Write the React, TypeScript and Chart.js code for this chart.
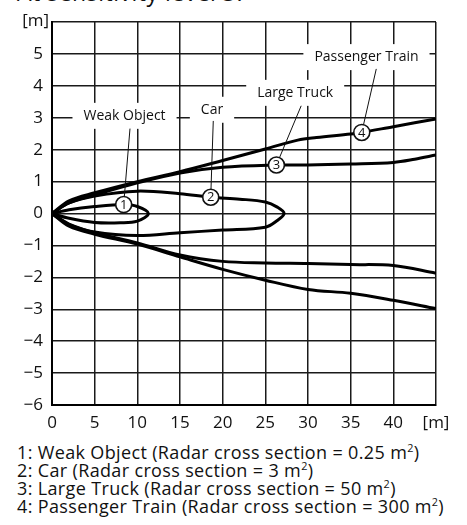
import React, { useEffect, useRef } from "react";
import { Chart, registerables } from "chart.js";
Chart.register(...registerables);

// ---- data ----
const xTickValues = [0, 5, 10, 15, 20, 25, 30, 35, 40, 45];
const xTickLabels = ["0", "5", "10", "15", "20", "25", "30", "35", "40", "[m]"];
const yTickValues = [-6, -5, -4, -3, -2, -1, 0, 1, 2, 3, 4, 5, 6];
const yTickLabels = ["−6", "−5", "−4", "−3", "−2", "−1", "0", "1", "2", "3", "4", "5", ""];

const weakObjectX = [0, 2, 5, 8.4, 10, 11.3, 10, 8, 5, 2, 0];
const weakObjectY = [0, 0.12, 0.22, 0.28, 0.22, 0, -0.24, -0.29, -0.28, -0.15, 0];

const carX = [0, 2, 5, 10, 15, 18.6, 22, 25, 26.4, 27.2, 26.4, 25, 20, 15, 10, 5, 2, 0];
const carY = [0, 0.33, 0.55, 0.7, 0.62, 0.51, 0.45, 0.36, 0.2, 0, -0.22, -0.43, -0.52, -0.6, -0.69, -0.58, -0.33, 0];

const truckUpperX = [0, 2, 5, 10, 15, 20, 26.3, 30, 35, 40, 42.5, 45];
const truckUpperY = [0, 0.33, 0.58, 0.96, 1.27, 1.45, 1.52, 1.52, 1.55, 1.6, 1.7, 1.83];
const truckLowerX = [0, 2, 5, 10, 15, 20, 25, 30, 35, 40, 45];
const truckLowerY = [0, -0.35, -0.6, -0.92, -1.3, -1.5, -1.55, -1.57, -1.6, -1.63, -1.87];

const trainUpperX = [0, 2, 5, 10, 15, 20, 25, 28.8, 31, 35, 36.3, 40, 45];
const trainUpperY = [0, 0.4, 0.65, 1.0, 1.31, 1.66, 2.02, 2.3, 2.38, 2.49, 2.54, 2.72, 2.96];
const trainLowerX = [0, 2, 5, 10, 15, 20, 25, 30, 35, 40, 45];
const trainLowerY = [0, -0.4, -0.65, -0.96, -1.36, -1.75, -2.09, -2.38, -2.5, -2.72, -2.98];

// annotations
const labelTexts = ["Weak Object", "Car", "Large Truck", "Passenger Train"];
const labelX = [8.5, 18.75, 28.5, 36.85];
const labelY = [3.06, 3.25, 3.78, 4.9];
const leaderStartX = [9.14, 18.9, 29.2, 38.0];
const leaderStartY = [2.66, 2.9, 3.375, 4.53];
const markerNumbers = ["1", "2", "3", "4"];
const markerX = [8.4, 18.6, 26.3, 36.3];
const markerY = [0.28, 0.51, 1.52, 2.54];

const footnotes = [
  ["1: Weak Object (Radar cross section = 0.25 m", ")"],
  ["2: Car (Radar cross section = 3 m", ")"],
  ["3: Large Truck (Radar cross section = 50 m", ")"],
  ["4: Passenger Train (Radar cross section = 300 m", ")"],
];

const FONT = '"Open Sans", "Noto Sans", sans-serif';

function pts(xs: number[], ys: number[]) {
  return xs.map((x, i) => ({ x, y: ys[i] }));
}

const annotationPlugin = {
  id: "annot",
  beforeDatasetsDraw(chart: any) {
    const { ctx, scales } = chart;
    const xs = scales.x, ys = scales.y;
    ctx.save();
    ctx.font = `14px ${FONT}`;
    ctx.textAlign = "center";
    ctx.textBaseline = "middle";
    labelTexts.forEach((t, i) => {
      const cx = xs.getPixelForValue(labelX[i]);
      const cy = ys.getPixelForValue(labelY[i]);
      const w = ctx.measureText(t).width + 22;
      const h = 26;
      ctx.fillStyle = "#fff";
      ctx.fillRect(cx - w / 2, cy - h / 2, w, h);
      ctx.fillStyle = "#111";
      ctx.fillText(t, cx, cy);
    });
    ctx.restore();
  },
  afterDatasetsDraw(chart: any) {
    const { ctx, scales } = chart;
    const xs = scales.x, ys = scales.y;
    ctx.save();
    ctx.strokeStyle = "#111";
    ctx.lineWidth = 1;
    markerNumbers.forEach((_, i) => {
      ctx.beginPath();
      ctx.moveTo(xs.getPixelForValue(leaderStartX[i]), ys.getPixelForValue(leaderStartY[i]));
      ctx.lineTo(xs.getPixelForValue(markerX[i]), ys.getPixelForValue(markerY[i]));
      ctx.stroke();
    });
    ctx.font = `13px ${FONT}`;
    ctx.textAlign = "center";
    ctx.textBaseline = "middle";
    markerNumbers.forEach((n, i) => {
      const cx = xs.getPixelForValue(markerX[i]);
      const cy = ys.getPixelForValue(markerY[i]);
      ctx.beginPath();
      ctx.arc(cx, cy, 8, 0, Math.PI * 2);
      ctx.fillStyle = "#fff";
      ctx.fill();
      ctx.lineWidth = 1.6;
      ctx.strokeStyle = "#111";
      ctx.stroke();
      ctx.fillStyle = "#111";
      ctx.fillText(n, cx, cy + 0.5);
    });
    // y unit label
    ctx.font = `17px ${FONT}`;
    ctx.textAlign = "right";
    ctx.textBaseline = "middle";
    ctx.fillStyle = "#111";
    ctx.fillText("[m]", chart.chartArea.left - 3, chart.chartArea.top - 1);
    ctx.restore();
  },
};

export default function App() {
  const ref = useRef<HTMLCanvasElement>(null);
  useEffect(() => {
    if (!ref.current) return;
    const line = (data: any[]) => ({
      data,
      showLine: true,
      borderColor: "#000",
      borderWidth: 3,
      pointRadius: 0,
      tension: 0.35,
      fill: false,
    });
    const chart = new Chart(ref.current, {
      type: "scatter",
      data: {
        datasets: [
          line(pts(weakObjectX, weakObjectY)),
          line(pts(carX, carY)),
          line(pts(truckUpperX, truckUpperY)),
          line(pts(truckLowerX, truckLowerY)),
          line(pts(trainUpperX, trainUpperY)),
          line(pts(trainLowerX, trainLowerY)),
        ],
      },
      options: {
        responsive: false,
        animation: false,
        layout: { padding: { left: 0, top: 22, right: 31, bottom: 5 } },
        plugins: { legend: { display: false }, tooltip: { enabled: false } },
        scales: {
          x: {
            type: "linear",
            min: 0,
            max: 45,
            afterFit: (s: any) => { s.height = 30; },
            afterBuildTicks: (s: any) => { s.ticks = xTickValues.map((v) => ({ value: v })); },
            grid: { color: "#1a1a1a", lineWidth: 1.5, drawTicks: false },
            border: { color: "#000", width: 2 },
            ticks: {
              color: "#111",
              padding: 8,
              font: { family: FONT, size: 17 },
              maxRotation: 0,
              autoSkip: false,
              callback: (v: any) => xTickLabels[xTickValues.indexOf(Number(v))] ?? "",
            },
          },
          y: {
            type: "linear",
            min: -6,
            max: 6,
            afterFit: (s: any) => { s.width = 52; },
            afterBuildTicks: (s: any) => { s.ticks = yTickValues.map((v) => ({ value: v })); },
            grid: { color: "#1a1a1a", lineWidth: 1.5, drawTicks: false },
            border: { color: "#000", width: 2 },
            ticks: {
              color: "#111",
              padding: 9,
              font: { family: FONT, size: 17 },
              autoSkip: false,
              callback: (v: any) => yTickLabels[yTickValues.indexOf(Number(v))] ?? "",
            },
          },
        },
      },
      plugins: [annotationPlugin],
    } as any);
    return () => chart.destroy();
  }, []);

  return (
    <div style={{ position: "absolute", left: 0, top: 0, width: 467, height: 525, overflow: "hidden", background: "#fff", fontFamily: FONT, color: "#111" }}>
      <div style={{ position: "absolute", left: 17, top: -19, fontSize: 23, letterSpacing: "0.5px", lineHeight: "23px", whiteSpace: "nowrap" }}>
        At sensitivity level 3:
      </div>
      <canvas ref={ref} width={467} height={440} style={{ position: "absolute", left: 0, top: 0 }} />
      <div style={{ position: "absolute", left: 17, top: 444.4, fontSize: 18, letterSpacing: "0.35px", lineHeight: "17.8px", whiteSpace: "nowrap" }}>
        {footnotes.map((f, i) => (
          <div key={i}>
            {f[0]}
            <span style={{ fontSize: "0.6em", lineHeight: 0, position: "relative", top: "-0.65em", verticalAlign: "baseline" }}>2</span>
            {f[1]}
          </div>
        ))}
      </div>
    </div>
  );
}
